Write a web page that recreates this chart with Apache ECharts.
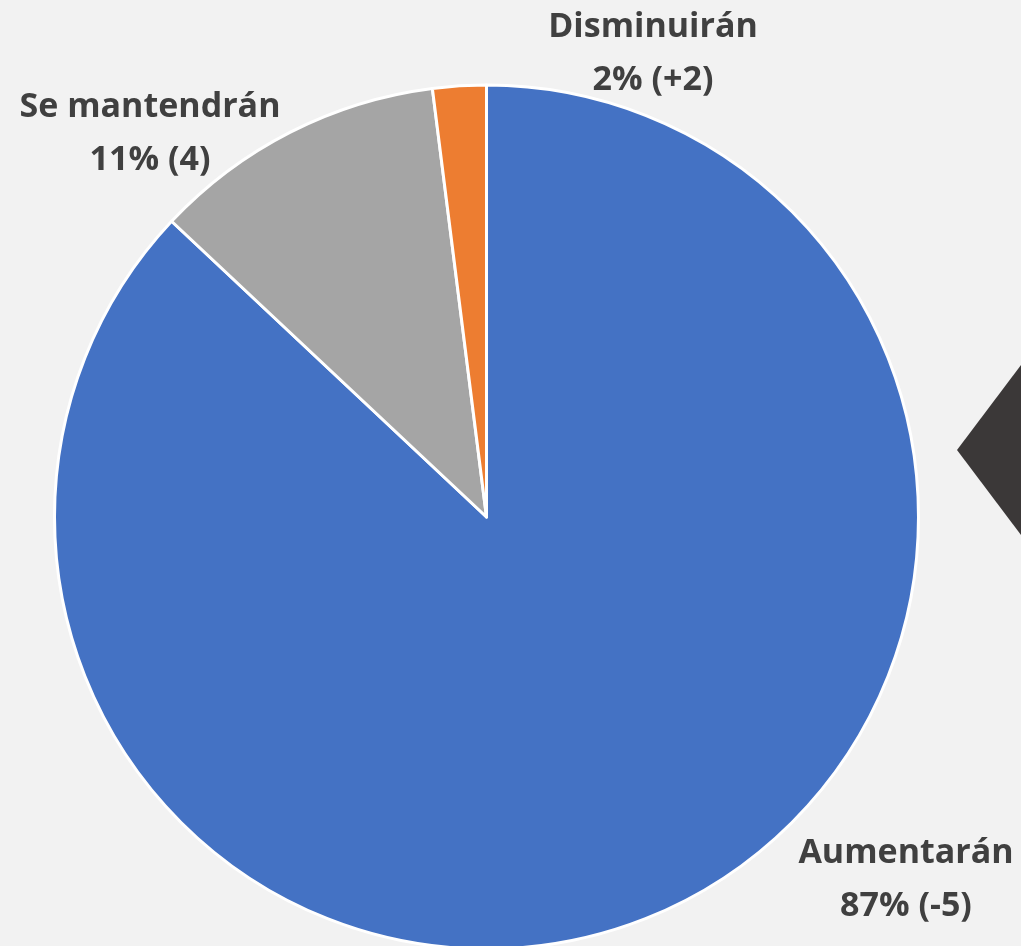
<!DOCTYPE html>
<html>
<head>
<meta charset="utf-8">
<script src="https://cdn.jsdelivr.net/npm/echarts@6/dist/echarts.min.js"></script>
<style>
  html, body { margin: 0; padding: 0; background: #f2f2f2; }
  #chart { width: 1021px; height: 946px; }
</style>
</head>
<body>
<div id="chart"></div>
<script>
const categories = ['Aumentarán', 'Se mantendrán', 'Disminuirán']
const shares = [87, 11, 2]
const changes = ['-5', '4', '+2']
const colors = ['#4472c4', '#a5a5a5', '#ed7d31']

// where Excel put each label (centre of text block)
const labelSpots = [
  [906, 880],
  [150, 134],
  [653, 54],
]

const chart = echarts.init(document.getElementById('chart'))

const option = {
  backgroundColor: '#f2f2f2',
  graphic: [
    {
      type: 'polygon',
      shape: { points: [[957, 450], [1021, 365], [1021, 535]] },
      style: { fill: '#3b3838' },
    },
  ],
  series: [
    {
      type: 'pie',
      center: [486.5, 517],
      radius: 432,
      startAngle: 90,
      clockwise: true,
      animation: false,
      itemStyle: { borderColor: '#ffffff', borderWidth: 3 },
      labelLine: { show: false },
      label: {
        show: true,
        position: 'outside',
        fontFamily: 'Open Sans',
        fontWeight: 'bold',
        fontSize: 34,
        lineHeight: 53,
        color: '#404040',
        align: 'center',
        overflow: 'none',
        formatter: (p) => p.name + '\n' + p.value + '% (' + changes[p.dataIndex] + ')',
      },
      labelLayout: (p) => ({
        x: labelSpots[p.dataIndex][0],
        y: labelSpots[p.dataIndex][1],
        align: 'center',
        verticalAlign: 'middle',
      }),
      data: categories.map((name, i) => ({
        name,
        value: shares[i],
        itemStyle: { color: colors[i] },
      })),
    },
  ],
}

chart.setOption(option)
</script>
</body>
</html>
